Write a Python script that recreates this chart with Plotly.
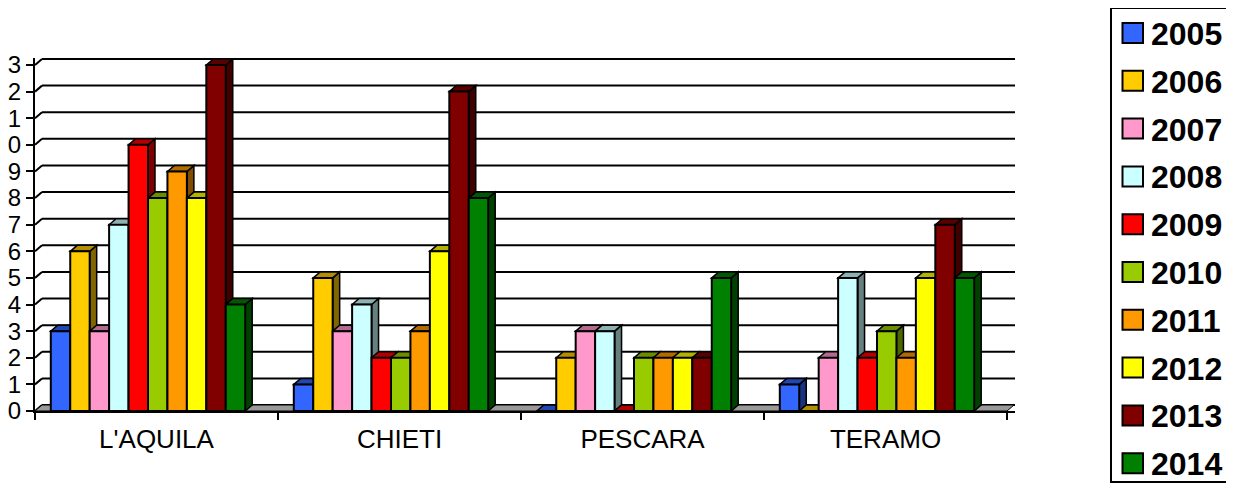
import plotly.graph_objects as go

# ---------------- data ----------------
CATEGORIES = ["L'AQUILA", "CHIETI", "PESCARA", "TERAMO"]
YEARS = ["2005", "2006", "2007", "2008", "2009", "2010", "2011", "2012", "2013", "2014"]
V2005 = [3, 1, 0, 1]
V2006 = [6, 5, 2, 0]
V2007 = [3, 3, 3, 2]
V2008 = [7, 4, 3, 5]
V2009 = [10, 2, 0, 2]
V2010 = [8, 2, 2, 3]
V2011 = [9, 3, 2, 2]
V2012 = [8, 6, 2, 5]
V2013 = [13, 12, 2, 7]
V2014 = [4, 8, 5, 5]
Y_TICK_VALUES = [0, 1, 2, 3, 4, 5, 6, 7, 8, 9, 10, 11, 12, 13]
Y_TICK_LABELS = ["0", "1", "2", "3", "4", "5", "6", "7", "8", "9", "0", "1", "2", "3"]

SERIES = [V2005, V2006, V2007, V2008, V2009, V2010, V2011, V2012, V2013, V2014]
COLORS = ["#3366FF", "#FFCC00", "#FF99CC", "#CCFFFF", "#FF0000",
          "#99CC00", "#FF9900", "#FFFF00", "#800000", "#008000"]

# ---------------- layout geometry (page pixels) ----------------
PAGE_W, PAGE_H = 1234, 485
BODY = 8                 # default page body margin around the figure div
W, H = PAGE_W - BODY, PAGE_H - BODY
PX_L, PX_R, PX_T, PX_B = 35, 1015, 58, 411
UNIT_X = 243.0           # pixels per category
UNIT_Y = 26.615          # pixels per value unit
X_RANGE = [-0.5, -0.5 + (PX_R - PX_L) / UNIT_X]
Y_RANGE = [0, (PX_B - PX_T) / UNIT_Y]
DX = 7 / UNIT_X          # 3D depth offset (x)
DY = 6 / UNIT_Y          # 3D depth offset (y)
BAR_W = 0.08
GROUP_START = -0.435


def shade(hexcol, f):
    h = hexcol.lstrip("#")
    r, g, b = (int(h[i:i + 2], 16) for i in (0, 2, 4))
    return "rgb(%d,%d,%d)" % (r * f, g * f, b * f)


def pxx(px):
    return (px - PX_L) / (PX_R - PX_L)


def pxy(py):
    return (PX_B - py) / (PX_B - PX_T)


fig = go.Figure()
shapes = []

# back wall gridlines + left wall diagonals
for v in Y_TICK_VALUES:
    shapes.append(dict(type="line", xref="x", yref="y", layer="below",
                       x0=X_RANGE[0] + DX, x1=X_RANGE[1], y0=v + DY, y1=v + DY,
                       line=dict(color="black", width=2)))
    shapes.append(dict(type="line", xref="x", yref="y", layer="below",
                       x0=X_RANGE[0], x1=X_RANGE[0] + DX, y0=v, y1=v + DY,
                       line=dict(color="black", width=2)))

# floor
x_end = len(CATEGORIES) - 0.5
shapes.append(dict(type="path", xref="x", yref="y", layer="below",
                   path=f"M {X_RANGE[0]},0 L {x_end},0 L {x_end + DX},{DY} L {X_RANGE[0] + DX},{DY} Z",
                   fillcolor="#999999", line=dict(color="black", width=1)))

# bars: front faces as bar traces, side/top faces as shapes
for i, (year, vals, col) in enumerate(zip(YEARS, SERIES, COLORS)):
    off = GROUP_START + i * BAR_W
    fig.add_trace(go.Bar(
        x=list(range(len(CATEGORIES))), y=vals, name=year,
        width=BAR_W, offset=off,
        marker=dict(color=col, line=dict(color="black", width=2)),
        showlegend=False))
    for c, v in enumerate(vals):
        x0 = c + off
        x1 = x0 + BAR_W
        shapes.append(dict(type="path", xref="x", yref="y", layer="below",
                           path=f"M {x1},0 L {x1 + DX},{DY} L {x1 + DX},{v + DY} L {x1},{v} Z",
                           fillcolor=shade(col, 0.5), line=dict(color="black", width=1.5)))
        shapes.append(dict(type="path", xref="x", yref="y", layer="below",
                           path=f"M {x0},{v} L {x0 + DX},{v + DY} L {x1 + DX},{v + DY} L {x1},{v} Z",
                           fillcolor=shade(col, 0.7), line=dict(color="black", width=1.5)))

# manual legend
annotations = []
LEG_L, LEG_R, LEG_T, LEG_B = 1111, 1232, 8, 482
shapes.append(dict(type="rect", xref="paper", yref="paper",
                   x0=pxx(LEG_L), x1=pxx(LEG_R), y0=pxy(LEG_B), y1=pxy(LEG_T),
                   line=dict(color="black", width=2), fillcolor="white"))
for i, (year, col) in enumerate(zip(YEARS, COLORS)):
    cy = 33 + i * 47.8
    shapes.append(dict(type="rect", xref="paper", yref="paper",
                       x0=pxx(1122.5), x1=pxx(1143), y0=pxy(cy + 10), y1=pxy(cy - 10),
                       line=dict(color="black", width=2), fillcolor=col))
    annotations.append(dict(xref="paper", yref="paper", x=pxx(1149), y=pxy(cy + 1),
                            xanchor="left", yanchor="middle", showarrow=False,
                            text=f"<b>{year}</b>",
                            font=dict(family="Arial, Liberation Sans", size=32, color="black")))

fig.update_layout(
    width=W, height=H,
    margin=dict(l=PX_L - BODY, r=W - (PX_R - BODY), t=PX_T - BODY, b=H - (PX_B - BODY), pad=0),
    paper_bgcolor="white", plot_bgcolor="white",
    barmode="overlay",
    showlegend=False,
    shapes=shapes, annotations=annotations,
    font=dict(family="Arial, Liberation Sans", color="black"),
    xaxis=dict(range=X_RANGE, tickvals=list(range(len(CATEGORIES))), ticktext=CATEGORIES,
               ticks="", showgrid=False, zeroline=False, automargin=False,
               showline=True, linecolor="black", linewidth=2,
               tickfont=dict(size=26, color="black"), ticklabelstandoff=4,
               minor=dict(tickmode="array", tickvals=[c - 0.5 for c in range(len(CATEGORIES) + 1)],
                          ticks="outside", ticklen=7, tickwidth=2, tickcolor="black", showgrid=False)),
    yaxis=dict(range=Y_RANGE, tickvals=Y_TICK_VALUES, ticktext=Y_TICK_LABELS,
               ticks="outside", ticklen=7, tickwidth=2, tickcolor="black",
               showgrid=False, zeroline=False, automargin=False,
               showline=True, linecolor="black", linewidth=2,
               tickfont=dict(size=24, color="black")),
)

fig.write_html("out.html")
